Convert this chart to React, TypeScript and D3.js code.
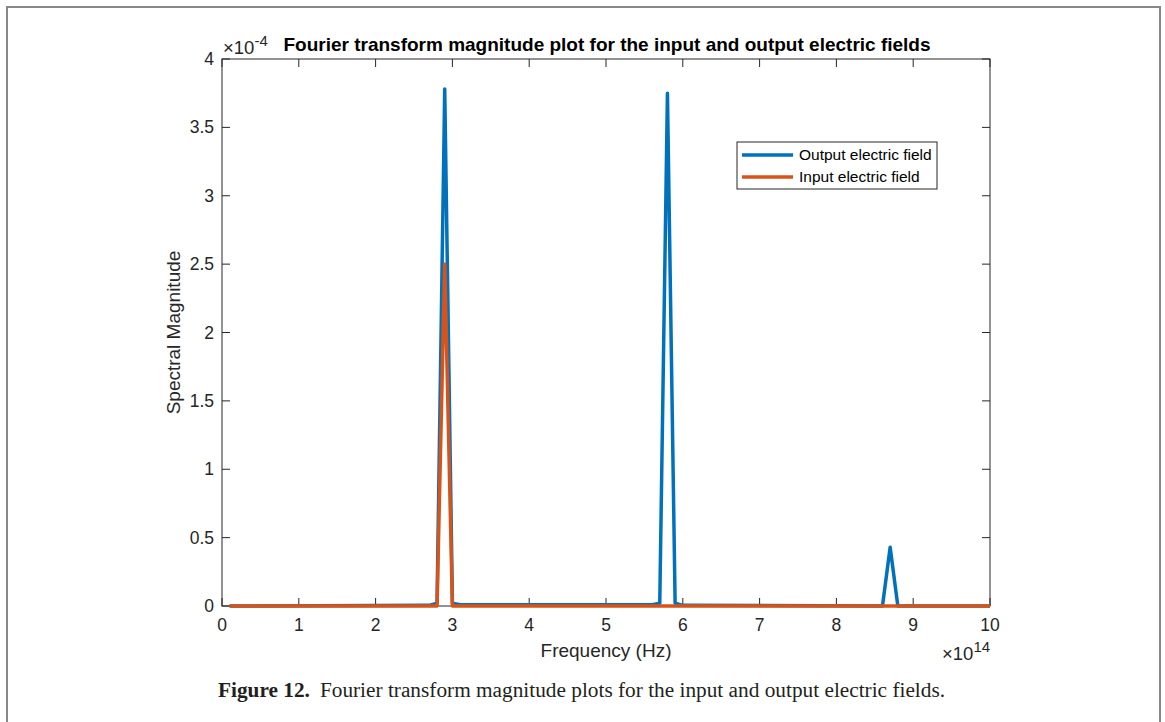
import React, { useEffect, useRef } from "react";
import * as d3 from "d3";

// frequency in units of 1e14 Hz, magnitude in units of 1e-4
const outputFreq = [0.1, 2.7, 2.8, 2.9, 3.0, 3.1, 5.6, 5.7, 5.8, 5.9, 6.0, 8.6, 8.7, 8.8, 10];
const outputMag = [0, 0.005, 0.02, 3.78, 0.02, 0.01, 0.01, 0.02, 3.75, 0.02, 0.005, 0, 0.43, 0, 0];
const inputFreq = [0.1, 2.8, 2.9, 3.0, 10];
const inputMag = [0, 0, 2.5, 0, 0];

const xTicks = [0, 1, 2, 3, 4, 5, 6, 7, 8, 9, 10];
const yTicks = [0, 0.5, 1, 1.5, 2, 2.5, 3, 3.5, 4];

const seriesNames = ["Output electric field", "Input electric field"];
const seriesColors = ["#0072BD", "#D95319"];

const W = 1165;
const H = 722;
const m = { left: 222, right: 990, top: 59, bottom: 606 };
const font = "'Liberation Sans', Arial, Helvetica, sans-serif";

const App = () => {
  const svgRef = useRef<SVGSVGElement | null>(null);

  useEffect(() => {
    const svg = d3.select(svgRef.current);
    svg.selectAll("*").remove();

    const x = d3.scaleLinear().domain([0, 10]).range([m.left, m.right]);
    const y = d3.scaleLinear().domain([0, 4]).range([m.bottom, m.top]);

    // outer frame of the figure
    svg
      .append("path")
      .attr("d", `M7,${H} L7,7 L1160,7 L1160,${H}`)
      .attr("fill", "none")
      .attr("stroke", "#888")
      .attr("stroke-width", 2);

    svg.append("rect").attr("x", m.left).attr("y", m.top)
      .attr("width", m.right - m.left).attr("height", m.bottom - m.top)
      .attr("fill", "#fff");

    // axes, MATLAB style: ticks inward on all four sides
    const tickLen = 8;
    const axisG = svg.append("g").attr("stroke", "#262626").attr("stroke-width", 1);
    xTicks.forEach(t => {
      axisG.append("line").attr("x1", x(t)).attr("x2", x(t)).attr("y1", m.bottom).attr("y2", m.bottom - tickLen);
      axisG.append("line").attr("x1", x(t)).attr("x2", x(t)).attr("y1", m.top).attr("y2", m.top + tickLen);
    });
    yTicks.forEach(t => {
      axisG.append("line").attr("x1", m.left).attr("x2", m.left + tickLen).attr("y1", y(t)).attr("y2", y(t));
      axisG.append("line").attr("x1", m.right).attr("x2", m.right - tickLen).attr("y1", y(t)).attr("y2", y(t));
    });
    axisG.append("rect").attr("x", m.left).attr("y", m.top)
      .attr("width", m.right - m.left).attr("height", m.bottom - m.top)
      .attr("fill", "none");

    // tick labels
    svg.append("g").selectAll("text").data(xTicks).enter().append("text")
      .attr("x", d => x(d)).attr("y", m.bottom + 25)
      .attr("text-anchor", "middle").attr("font-family", font).attr("font-size", 17.5)
      .attr("fill", "#262626").text(d => String(d));
    svg.append("g").selectAll("text").data(yTicks).enter().append("text")
      .attr("x", m.left - 8).attr("y", d => y(d) + 6)
      .attr("text-anchor", "end").attr("font-family", font).attr("font-size", 17.5)
      .attr("fill", "#262626").text(d => String(d));

    // exponent labels
    const yExp = svg.append("text").attr("x", m.left + 1).attr("y", 54)
      .attr("font-family", font).attr("font-size", 18.5).attr("fill", "#262626");
    yExp.append("tspan").text("\u00d710");
    yExp.append("tspan").attr("dy", -8).attr("font-size", 15).text("-4");

    const xExp = svg.append("text").attr("x", 942).attr("y", 660)
      .attr("font-family", font).attr("font-size", 18.5).attr("fill", "#262626");
    xExp.append("tspan").text("\u00d710");
    xExp.append("tspan").attr("dy", -8).attr("font-size", 15).text("14");

    // axis titles
    svg.append("text").attr("x", (m.left + m.right) / 2).attr("y", 657)
      .attr("text-anchor", "middle").attr("font-family", font).attr("font-size", 19)
      .attr("fill", "#262626").text("Frequency (Hz)");
    svg.append("text")
      .attr("transform", `translate(180,${(m.top + m.bottom) / 2}) rotate(-90)`)
      .attr("text-anchor", "middle").attr("font-family", font).attr("font-size", 19)
      .attr("fill", "#262626").text("Spectral Magnitude");

    svg.append("text").attr("x", (m.left + m.right) / 2 + 1).attr("y", 51)
      .attr("text-anchor", "middle").attr("font-family", font).attr("font-size", 19)
      .attr("font-weight", "bold").attr("fill", "#000")
      .text("Fourier transform magnitude plot for the input and output electric fields");

    // series
    const line = d3.line<[number, number]>().x(d => x(d[0])).y(d => y(d[1]));
    const series: [number, number][][] = [
      outputFreq.map((f, i) => [f, outputMag[i]]),
      inputFreq.map((f, i) => [f, inputMag[i]]),
    ];
    series.forEach((pts, i) => {
      svg.append("path").datum(pts).attr("d", line)
        .attr("fill", "none").attr("stroke", seriesColors[i])
        .attr("stroke-width", 3.5).attr("stroke-linejoin", "round");
    });

    // legend
    const lg = svg.append("g");
    lg.append("rect").attr("x", 737).attr("y", 142).attr("width", 200).attr("height", 47)
      .attr("fill", "#fff").attr("stroke", "#262626").attr("stroke-width", 1);
    seriesNames.forEach((name, i) => {
      const ly = 155 + i * 22;
      lg.append("line").attr("x1", 742).attr("x2", 793).attr("y1", ly).attr("y2", ly)
        .attr("stroke", seriesColors[i]).attr("stroke-width", 3.5);
      lg.append("text").attr("x", 799).attr("y", ly + 5)
        .attr("font-family", font).attr("font-size", 15.5).attr("fill", "#000").text(name);
    });

    // caption
    const cap = svg.append("text").attr("x", 218).attr("y", 697)
      .attr("font-family", "'Liberation Serif', 'Times New Roman', serif").attr("font-size", 21.3)
      .attr("fill", "#231f20");
    cap.append("tspan").attr("font-weight", "bold").text("Figure 12.");
    cap.append("tspan").attr("dx", 10)
      .text("Fourier transform magnitude plots for the input and output electric fields.");
  }, []);

  return (
    <svg
      ref={svgRef}
      width={W}
      height={H}
      style={{ position: "absolute", left: 0, top: 0, background: "#fff" }}
    />
  );
};

export default App;
